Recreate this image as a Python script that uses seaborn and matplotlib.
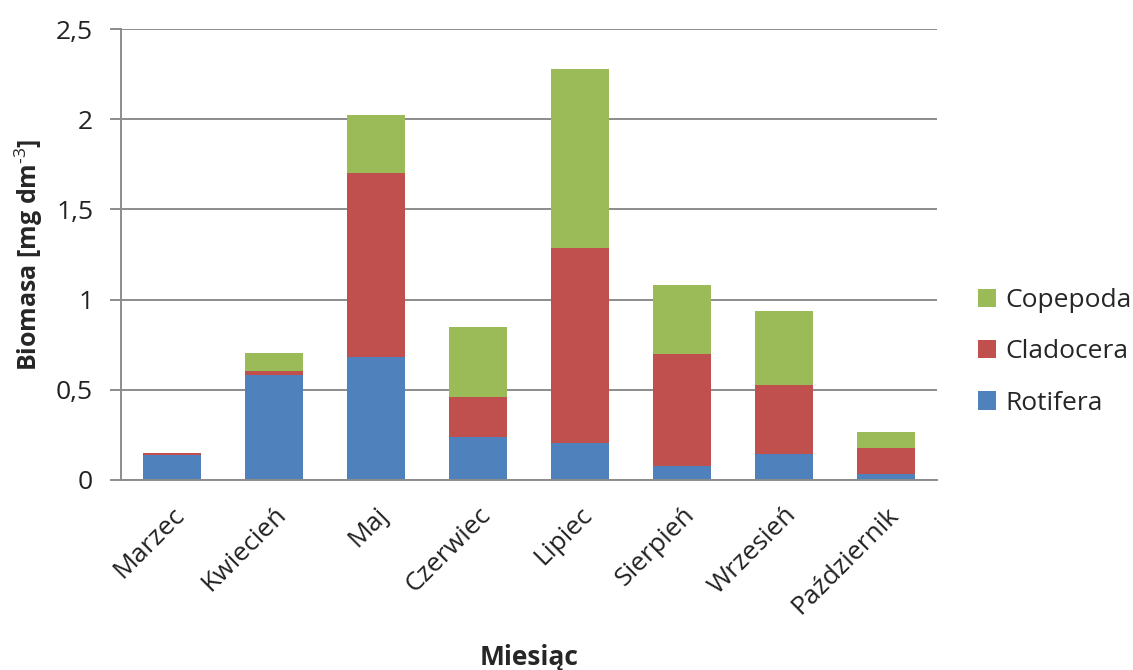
import matplotlib
matplotlib.use("Agg")
import matplotlib.pyplot as plt
import seaborn as sns
import numpy as np
import pandas as pd

months = ["Marzec", "Kwiecień", "Maj", "Czerwiec", "Lipiec", "Sierpień", "Wrzesień", "Październik"]
rotifera = [0.139, 0.582, 0.683, 0.240, 0.203, 0.078, 0.146, 0.035]
cladocera = [0.009, 0.024, 1.017, 0.221, 1.081, 0.622, 0.383, 0.141]
copepoda = [0.003, 0.096, 0.323, 0.388, 0.994, 0.383, 0.408, 0.088]
yticks = [0, 0.5, 1, 1.5, 2, 2.5]
ytick_labels = ["0", "0,5", "1", "1,5", "2", "2,5"]

colors = {"Rotifera": "#4F81BD", "Cladocera": "#C0504D", "Copepoda": "#9BBB59"}

sns.set_theme(style="white")
plt.rcParams["font.family"] = ["Open Sans", "DejaVu Sans"]
plt.rcParams["mathtext.fontset"] = "custom"
plt.rcParams["mathtext.rm"] = "Open Sans"
plt.rcParams["mathtext.bf"] = "Open Sans:bold"
plt.rcParams["mathtext.default"] = "regular"

r = np.array(rotifera)
c = np.array(cladocera)
p = np.array(copepoda)
df = pd.DataFrame({
    "month": months,
    "Rotifera": r,
    "Cladocera": r + c,
    "Copepoda": r + c + p,
})

fig = plt.figure(figsize=(11.33, 6.70), dpi=100)
ax = fig.add_axes([0.1068, 0.2836, 0.827 - 0.1068, 0.9567 - 0.2836])

for name in ["Copepoda", "Cladocera", "Rotifera"]:
    sns.barplot(data=df, x="month", y=name, color=colors[name], width=0.56,
                saturation=1, ax=ax, label=name, linewidth=0)

ax.set_ylim(0, 2.5)
ax.set_xlim(-0.5, len(months) - 0.5)
ax.set_yticks(yticks)
ax.set_yticklabels(ytick_labels, fontsize=19, color="#222222")
ax.yaxis.grid(True, color="#8C8C8C", linewidth=1.4)
ax.set_axisbelow(True)
for s in ["top", "right"]:
    ax.spines[s].set_visible(False)
for s in ["left", "bottom"]:
    ax.spines[s].set_color("#8C8C8C")
    ax.spines[s].set_linewidth(1.4)
ax.tick_params(axis="y", which="both", left=True, length=8, width=1.4, color="#8C8C8C", pad=12)
ax.tick_params(axis="x", bottom=False, pad=10)
ax.set_xticks(range(len(months)))
ax.set_xticklabels(months, rotation=45, ha="right", rotation_mode="anchor", fontsize=19, color="#222222")

ax.set_xlabel("Miesiąc", fontsize=19, fontweight="bold", labelpad=18)
ax.set_ylabel("Biomasa [mg dm$^{\\text{-3}}$]", fontsize=18, fontweight="bold", labelpad=8)

handles, labels = ax.get_legend_handles_labels()
leg = ax.legend(handles, labels, loc="center left", bbox_to_anchor=(1.05, 0.284),
                frameon=False, fontsize=19, handlelength=0.7, handleheight=0.7,
                handletextpad=0.35, labelspacing=1.0, borderaxespad=0, borderpad=0)

fig.savefig("out.png", dpi=100)
